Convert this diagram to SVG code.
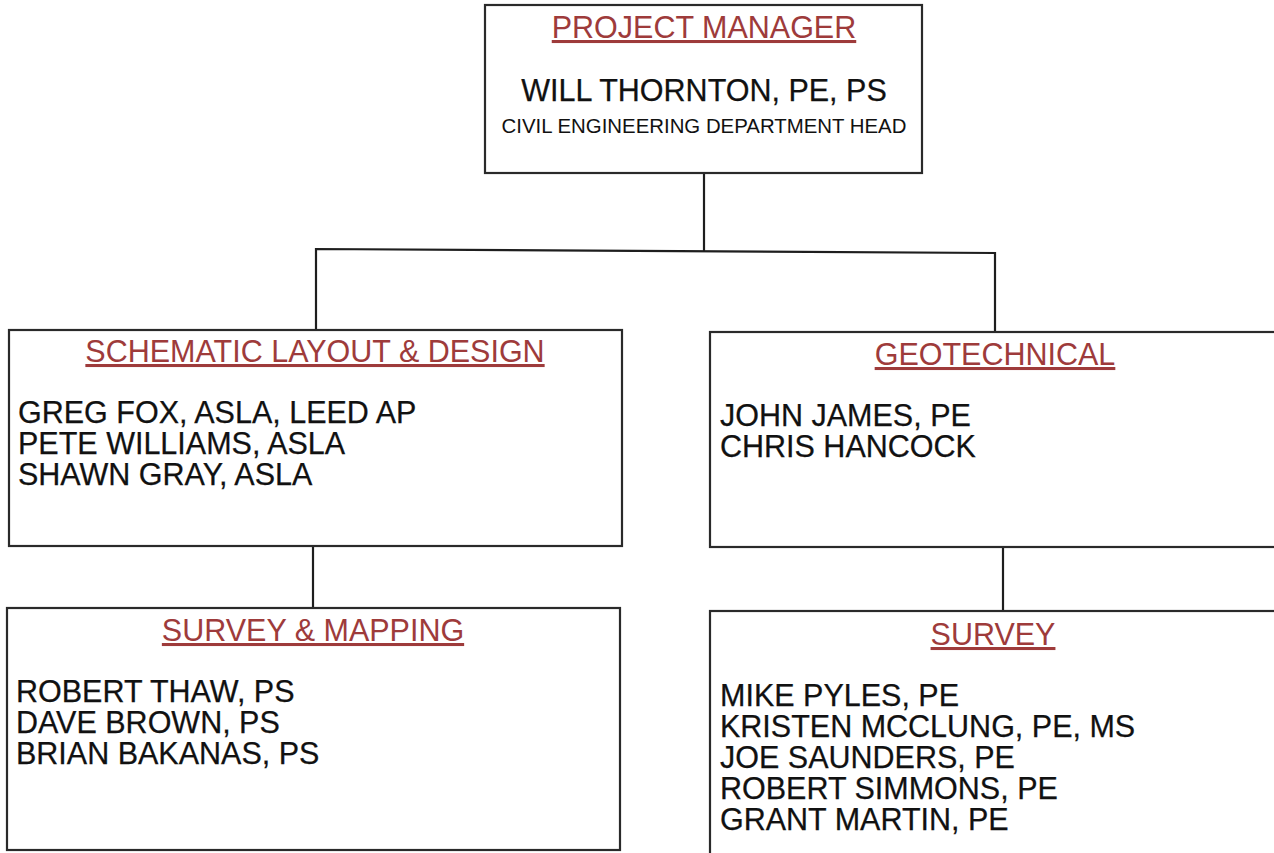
<svg xmlns="http://www.w3.org/2000/svg" width="1274" height="853" viewBox="0 0 1274 853">
<style>
.box{fill:#fff;stroke:#2a2a2a;stroke-width:2.2}
.hdr{font-family:"Liberation Sans",Arial,sans-serif;font-size:30.5px;fill:#9e3b3b;text-anchor:middle;text-decoration:underline}
.nm{font-family:"Liberation Sans",Arial,sans-serif;font-size:30.5px;fill:#111;stroke:#111;stroke-width:0.25}
.sm{font-family:"Liberation Sans",Arial,sans-serif;font-size:20.4px;fill:#111;text-anchor:middle}
.con{fill:none;stroke:#1e1e1e;stroke-width:2.2}
</style>
<rect width="1274" height="853" fill="#fff"/>
<g id="connectors">
<path class="con" d="M704 173 V251"/>
<path class="con" d="M316 330 V249 L995 253 V333"/>
<path class="con" d="M313 547 V608" stroke="#2b2a10"/>
<path class="con" d="M1003 548 V611" stroke="#2b2a10"/>
</g>
<g id="project-manager">
<rect class="box" x="485" y="5" width="437" height="168"/>
<text class="hdr" x="704" y="38">PROJECT MANAGER</text>
<text class="nm" x="704" y="101" text-anchor="middle">WILL THORNTON, PE, PS</text>
<text class="sm" x="704" y="133">CIVIL ENGINEERING DEPARTMENT HEAD</text>
</g>
<g id="schematic">
<rect class="box" x="9" y="330" width="613" height="216"/>
<text class="hdr" x="315" y="362">SCHEMATIC LAYOUT &amp; DESIGN</text>
<text class="nm" x="18" y="423">GREG FOX, ASLA, LEED AP</text>
<text class="nm" x="18" y="454">PETE WILLIAMS, ASLA</text>
<text class="nm" x="18" y="485">SHAWN GRAY, ASLA</text>
</g>
<g id="geotechnical">
<rect class="box" x="710" y="332" width="570" height="215"/>
<text class="hdr" x="995" y="365">GEOTECHNICAL</text>
<text class="nm" x="720" y="426">JOHN JAMES, PE</text>
<text class="nm" x="720" y="457">CHRIS HANCOCK</text>
</g>
<g id="survey-mapping">
<rect class="box" x="7" y="608" width="613" height="242"/>
<text class="hdr" x="313" y="641">SURVEY &amp; MAPPING</text>
<text class="nm" x="16" y="702">ROBERT THAW, PS</text>
<text class="nm" x="16" y="733">DAVE BROWN, PS</text>
<text class="nm" x="16" y="764">BRIAN BAKANAS, PS</text>
</g>
<g id="survey">
<rect class="box" x="710" y="611" width="570" height="250"/>
<text class="hdr" x="993" y="645">SURVEY</text>
<text class="nm" x="720" y="706">MIKE PYLES, PE</text>
<text class="nm" x="720" y="737">KRISTEN MCCLUNG, PE, MS</text>
<text class="nm" x="720" y="768">JOE SAUNDERS, PE</text>
<text class="nm" x="720" y="799">ROBERT SIMMONS, PE</text>
<text class="nm" x="720" y="830">GRANT MARTIN, PE</text>
</g>
</svg>
